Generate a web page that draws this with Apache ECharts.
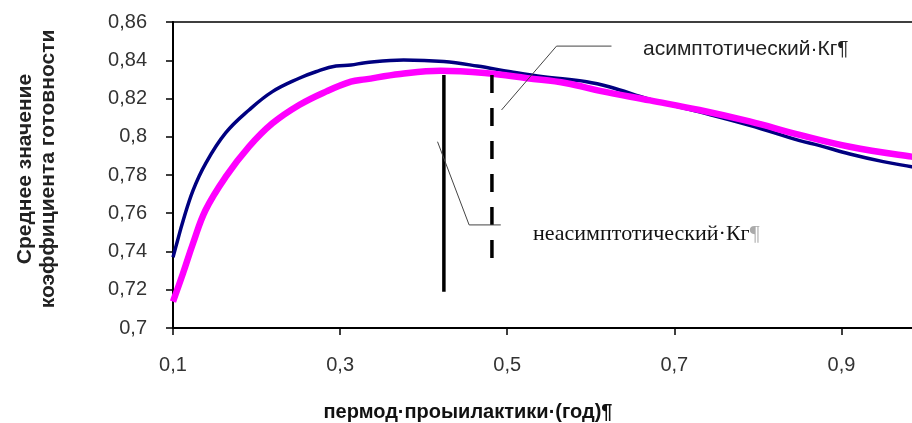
<!DOCTYPE html>
<html>
<head>
<meta charset="utf-8">
<script src="https://cdn.jsdelivr.net/npm/echarts@6/dist/echarts.min.js"></script>
<style>
html,body{margin:0;padding:0;background:#fff;}
#c{width:912px;height:423px;}
</style>
</head>
<body>
<div id="c"></div>
<script>
// x-axis tick labels
const xTicks = [0.1, 0.3, 0.5, 0.7, 0.9];
// asymptotic Kg (navy)
const blueX = [0.100,0.105,0.112,0.124,0.139,0.163,0.191,0.219,0.251,0.271,0.295,0.313,0.330,0.376,0.424,0.464,0.504,0.543,0.595,0.623,0.671,0.730,0.790,0.850,0.873,0.910,0.950,0.984,1.000];
const blueY = [0.737,0.745,0.756,0.772,0.786,0.802,0.814,0.8236,0.8306,0.834,0.837,0.8375,0.8387,0.8401,0.8393,0.837,0.834,0.8314,0.8288,0.826,0.8195,0.813,0.806,0.798,0.7955,0.791,0.787,0.7843,0.783];
// non-asymptotic Kg (magenta)
const magX = [0.100,0.112,0.124,0.139,0.163,0.191,0.219,0.251,0.283,0.313,0.330,0.372,0.420,0.476,0.524,0.571,0.611,0.671,0.730,0.790,0.850,0.910,0.984,1.000];
const magY = [0.7138,0.7286,0.7443,0.7617,0.779,0.7948,0.807,0.8166,0.8236,0.8288,0.830,0.8328,0.8345,0.8332,0.8306,0.828,0.824,0.819,0.814,0.808,0.801,0.7948,0.7896,0.789];
// vertical markers (x, y-bottom, y-top)
const solidMark = [0.4242, 0.719, 0.8323];
const dashMark = [0.4817, 0.7366, 0.8323];
// leader lines (data coords)
const leader1 = [[0.4932,0.814],[0.559,0.8474],[0.6248,0.8474]];
const leader2 = [[0.4166,0.7974],[0.4544,0.7539],[0.4923,0.7539]];
// texts
const labelAsym = 'асимптотический·Кг¶';
const labelNonAsym = 'неасимптотический·Кг';
const xTitle = 'пермод·проыилактики·(год)¶';
const yTitle = ['Среднее значение', 'коэффициента готовности'];

const fmt = v => String(+Number(v).toFixed(2)).replace('.', ',');
const zip = (a, b) => a.map((x, i) => [x, b[i]]);

const chart = echarts.init(document.getElementById('c'));
chart.setOption({
  animation: false,
  backgroundColor: '#fff',
  grid: {left: 173, top: 22, width: 752, height: 306, outerBoundsMode: 'none', containLabel: false,
         show: true, borderColor: '#000', borderWidth: 1.5, backgroundColor: 'transparent'},
  xAxis: {
    type: 'value', min: 0.1, max: 1.0,
    axisLine: {show: true, lineStyle: {color: '#000', width: 2}},
    axisTick: {show: true, length: 7, customValues: xTicks, lineStyle: {color: '#000', width: 1.5}},
    axisLabel: {customValues: xTicks, formatter: fmt, margin: 27, fontFamily: 'Liberation Sans, Arial', fontSize: 20, color: '#333'},
    splitLine: {show: false}
  },
  yAxis: {
    type: 'value', min: 0.7, max: 0.86, interval: 0.02,
    axisLine: {show: true, lineStyle: {color: '#000', width: 2}},
    axisTick: {show: true, length: 7, lineStyle: {color: '#000', width: 1.5}},
    axisLabel: {formatter: fmt, margin: 26, fontFamily: 'Liberation Sans, Arial', fontSize: 20, color: '#333'},
    splitLine: {show: false}
  },
  graphic: [
    {type: 'text', rotation: Math.PI / 2, x: 37, y: 169,
     style: {text: yTitle.join('\n'), font: 'bold 21px "Liberation Sans", Arial', fill: '#222', align: 'center', verticalAlign: 'middle', lineHeight: 23}},
    {type: 'text', x: 468, y: 412,
     style: {text: xTitle, font: 'bold 20px "Liberation Sans", Arial', fill: '#111', align: 'center', verticalAlign: 'middle'}},
    {type: 'text', x: 643, y: 49,
     style: {text: labelAsym, font: '21px "Liberation Sans", Arial', fill: '#222', align: 'left', verticalAlign: 'middle'}},
    {type: 'text', x: 533, y: 234,
     style: {text: '{a|' + labelNonAsym + '}{p|¶}', align: 'left', verticalAlign: 'middle',
             rich: {a: {fontFamily: '"Liberation Serif", "Times New Roman"', fontSize: 22, fill: '#111', color: '#111'},
                    p: {fontFamily: '"Liberation Serif", "Times New Roman"', fontSize: 22, fill: '#aaa', color: '#aaa'}}}}
  ],
  series: [
    {type: 'line', data: zip(blueX, blueY), showSymbol: false, symbol: 'none', smooth: 0.4, lineStyle: {color: '#000080', width: 3.5}, z: 2},
    {type: 'line', data: zip(magX, magY), showSymbol: false, symbol: 'none', smooth: 0.4, lineStyle: {color: '#ff00ff', width: 6.5}, z: 3},
    {type: 'line', data: [[solidMark[0], solidMark[2]], [solidMark[0], solidMark[1]]], symbol: 'none', lineStyle: {color: '#000', width: 3.5}, z: 4},
    {type: 'line', data: [[dashMark[0], dashMark[2]], [dashMark[0], dashMark[1]]], symbol: 'none', lineStyle: {color: '#000', width: 3.5, type: [18, 15]}, z: 4},
    {type: 'line', data: leader1, symbol: 'none', lineStyle: {color: '#444', width: 1}, z: 5},
    {type: 'line', data: leader2, symbol: 'none', lineStyle: {color: '#444', width: 1}, z: 5}
  ]
});
</script>
</body>
</html>
